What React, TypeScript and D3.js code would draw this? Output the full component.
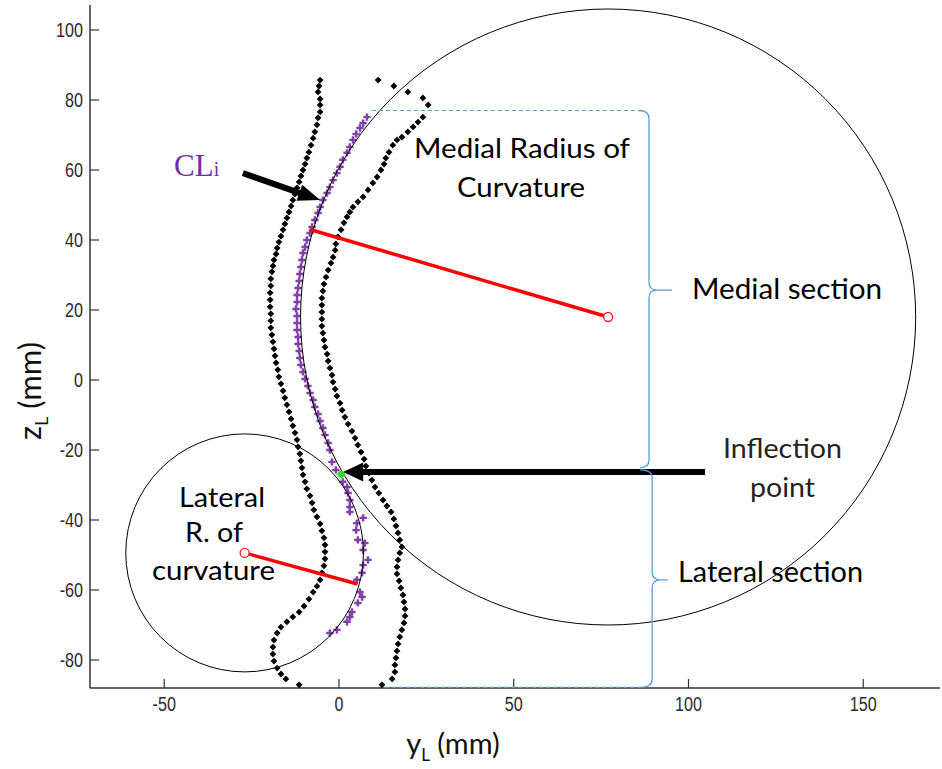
import React from 'react';
import * as d3 from 'd3';

const W = 942;
const H = 769;

const xTicks = [-50, 0, 50, 100, 150];
const zTicks = [-80, -60, -40, -20, 0, 20, 40, 60, 80, 100];

// left black border (y_L, z_L) in mm
const lateralBorder: [number, number][] = [
  [-5.4, 85.7], [-5.7, 84.0], [-6.0, 82.3], [-5.4, 80.3], [-5.4, 78.6], [-5.4, 76.6], [-6.0, 74.9], [-6.3, 72.9],
  [-6.9, 70.9], [-7.4, 69.1], [-8.0, 67.1], [-8.6, 65.1], [-9.2, 63.4], [-9.7, 61.7], [-10.3, 60.0], [-10.9, 58.3],
  [-11.4, 56.6], [-12.0, 54.9], [-12.6, 53.1], [-13.2, 51.4], [-13.7, 49.7], [-14.3, 48.0], [-14.9, 46.3], [-15.5, 44.6],
  [-16.0, 42.9], [-16.6, 41.1], [-17.2, 39.4], [-17.7, 37.7], [-18.0, 36.0], [-18.6, 34.3], [-18.9, 32.6], [-19.2, 30.9],
  [-19.5, 28.9], [-19.5, 26.9], [-19.7, 24.9], [-19.7, 22.9], [-19.7, 20.9], [-19.5, 18.9], [-19.5, 16.9], [-19.5, 14.9],
  [-19.2, 12.9], [-18.9, 10.9], [-18.6, 8.9], [-18.3, 6.9], [-18.0, 4.9], [-17.5, 2.9], [-17.2, 0.9], [-16.6, -1.1],
  [-16.0, -3.1], [-15.5, -5.1], [-14.9, -7.1], [-14.3, -9.1], [-13.7, -11.1], [-13.2, -13.1], [-12.6, -15.1], [-12.0, -17.1],
  [-11.7, -19.1], [-11.2, -21.1], [-10.9, -23.1], [-10.6, -25.1], [-10.3, -27.1], [-9.7, -29.1], [-9.2, -31.1], [-8.3, -33.1],
  [-7.7, -35.1], [-7.2, -37.1], [-6.3, -39.1], [-5.4, -41.1], [-4.9, -43.1], [-4.3, -45.1], [-4.0, -47.1], [-4.0, -49.1],
  [-4.0, -51.1], [-4.3, -53.1], [-4.9, -55.1], [-5.4, -57.1], [-6.3, -58.9], [-7.4, -60.6], [-8.6, -62.6], [-10.0, -64.6],
  [-11.4, -66.3], [-13.2, -67.7], [-14.9, -69.1], [-16.6, -70.6], [-17.7, -72.3], [-18.6, -74.3], [-18.9, -76.3], [-18.9, -78.3],
  [-18.6, -80.3], [-17.7, -82.3], [-16.6, -84.0], [-15.2, -85.4], [-11.4, -87.1],
];

// right black border
const medialBorder: [number, number][] = [
  [11.2, 85.7], [15.7, 84.0], [19.7, 82.3], [24.0, 80.6], [25.5, 78.6], [24.0, 75.1], [22.6, 73.7], [21.2, 72.3],
  [19.7, 70.9], [18.0, 69.4], [16.6, 68.6], [15.4, 67.1], [14.3, 65.1], [13.4, 63.4], [12.9, 61.7], [12.0, 60.0],
  [10.9, 58.0], [9.7, 56.3], [8.3, 54.3], [6.9, 52.3], [5.4, 50.9], [4.0, 49.4], [3.1, 48.0], [2.3, 46.6],
  [1.4, 44.9], [0.6, 42.9], [-0.3, 40.9], [-0.9, 38.9], [-1.1, 37.1], [-1.7, 35.1], [-2.3, 33.4], [-3.1, 31.4],
  [-3.7, 29.4], [-4.3, 27.4], [-4.6, 25.4], [-4.9, 23.4], [-4.9, 21.4], [-4.9, 19.4], [-4.9, 17.4], [-4.9, 15.4],
  [-4.6, 13.4], [-4.3, 11.4], [-4.0, 9.4], [-3.4, 7.4], [-3.1, 5.4], [-2.6, 3.4], [-2.0, 1.4], [-1.7, -0.6],
  [-1.1, -2.6], [-0.6, -4.6], [0.3, -6.6], [0.9, -8.6], [1.7, -10.6], [2.6, -12.6], [3.7, -14.6], [4.6, -16.6],
  [5.4, -18.6], [6.3, -20.6], [7.2, -22.6], [7.7, -24.6], [8.6, -26.6], [9.4, -28.6], [10.3, -30.6], [11.4, -32.3],
  [12.6, -34.3], [13.7, -36.0], [14.9, -37.7], [15.7, -39.7], [16.3, -41.7], [16.9, -43.7], [17.4, -45.7], [18.0, -47.7],
  [17.4, -49.4], [16.9, -51.4], [16.6, -53.4], [16.6, -55.4], [17.2, -57.4], [17.7, -59.4], [18.3, -61.4], [18.6, -63.4],
  [18.9, -65.4], [18.9, -67.4], [18.6, -69.4], [18.0, -71.4], [17.4, -73.4], [16.9, -75.4], [16.6, -77.4], [16.3, -79.4],
  [16.0, -81.4], [16.0, -83.4], [15.2, -85.4], [12.3, -87.1],
];

// purple centre line CL_i
const centerLine: [number, number][] = [
  [8.0, 75.1], [6.9, 73.4], [6.0, 72.0], [4.9, 70.3], [4.0, 68.6], [3.1, 66.6], [2.3, 64.9], [1.1, 62.9],
  [0.3, 60.9], [-0.6, 59.1], [-1.7, 57.1], [-2.6, 55.1], [-3.4, 53.4], [-4.6, 51.4], [-5.4, 49.4], [-6.0, 47.7],
  [-6.9, 45.7], [-7.7, 43.7], [-8.3, 42.0], [-9.2, 40.0], [-9.7, 38.0], [-10.3, 36.3], [-10.6, 34.3], [-10.9, 32.3],
  [-11.2, 30.3], [-11.4, 28.3], [-11.7, 26.3], [-12.0, 24.3], [-12.0, 22.3], [-12.3, 20.3], [-12.0, 18.3], [-12.0, 16.3],
  [-12.0, 14.3], [-11.7, 12.3], [-11.7, 10.3], [-11.4, 8.3], [-11.2, 6.3], [-10.9, 4.3], [-10.3, 2.3], [-9.7, 0.3],
  [-8.9, -1.7], [-8.3, -3.7], [-7.4, -5.7], [-6.9, -7.7], [-6.0, -9.7], [-5.4, -11.7], [-4.6, -13.7], [-4.0, -15.7],
  [-3.1, -18.0], [-2.6, -20.0], [-2.0, -23.4], [-0.9, -25.7], [1.1, -29.1], [2.3, -30.6], [2.6, -32.3], [3.1, -34.3],
  [3.1, -36.3], [3.1, -37.7], [5.1, -40.9], [6.9, -39.4], [4.9, -42.9], [5.4, -45.7], [7.4, -46.6], [6.9, -48.6],
  [8.3, -51.4], [6.9, -52.9], [6.6, -55.1], [5.1, -57.1], [6.0, -60.6], [6.6, -62.0], [5.4, -63.7], [3.7, -66.3],
  [3.1, -67.7], [2.3, -69.1], [-0.6, -71.4], [-2.6, -72.3],
];

const medialCircle = { cy: 77, cz: 18, r: 88 };
const medialRadiusEnd: [number, number] = [-8.3, 43];
const lateralCircle = { cy: -27, cz: -49.4, r: 34 };
const lateralRadiusEnd: [number, number] = [5.3, -58.3];
const inflectionPoint: [number, number] = [0.6, -26.9];

// annotation anchors (mm)
const clArrow: [number, number, number, number] = [-27.5, 59.1, -5.4, 51.4];
const inflArrow: [number, number, number, number] = [104.7, -26.3, 1.2, -26.3];
const braceMedial = { y: 88.7, top: 77, tip: 25.7, bottom: -25.1, tipY: 95.3 };
const braceLateral = { y: 89.6, top: -25.7, tip: -57.1, bottom: -87.8, tipY: 94.1 };
const dashStartTop = 9.4;
const dashStartBottom = 13.2;

const x = d3.scaleLinear().domain([-71.24, 171.96]).range([90, 940]);
const z = d3.scaleLinear().domain([-88, 107.14]).range([688, 5]);

function arrowPoly(x1: number, y1: number, x2: number, y2: number, sw: number, hl: number, hw: number) {
  const dx = x2 - x1, dy = y2 - y1;
  const L = Math.hypot(dx, dy);
  const ux = dx / L, uy = dy / L;
  const nx = -uy, ny = ux;
  const bx = x2 - ux * hl, by = y2 - uy * hl;
  const pts = [
    [x1 + nx * sw / 2, y1 + ny * sw / 2],
    [bx + nx * sw / 2, by + ny * sw / 2],
    [bx + nx * hw / 2, by + ny * hw / 2],
    [x2, y2],
    [bx - nx * hw / 2, by - ny * hw / 2],
    [bx - nx * sw / 2, by - ny * sw / 2],
    [x1 - nx * sw / 2, y1 - ny * sw / 2],
  ];
  return pts.map((p) => p.join(',')).join(' ');
}

function bracePath(b: { y: number; top: number; tip: number; bottom: number; tipY: number }, leftTop: number, leftBottom: number) {
  const p = d3.path();
  const X = x(b.y);
  const T = z(b.top), M = z(b.tip), B = z(b.bottom);
  const xt = x(b.tipY);
  const xl1 = x(leftTop), xl2 = x(leftBottom);
  const c = 8;
  p.moveTo(xl1, T);
  p.quadraticCurveTo(X, T, X, T + c);
  p.lineTo(X, M - c);
  p.quadraticCurveTo(X, M, X + c, M);
  p.lineTo(xt, M);
  p.moveTo(X + c, M);
  p.quadraticCurveTo(X, M, X, M + c);
  p.lineTo(X, B - c);
  p.quadraticCurveTo(X, B, xl2, B);
  return p.toString();
}

const diamond = 'M0,-3.4L3.4,0L0,3.4L-3.4,0Z';
const crossSym = d3.symbol(d3.symbolCross, 30)() as string;

const tickFont = "'Liberation Sans', Arial, sans-serif";
const annFont = "Lato, 'Open Sans', sans-serif";
const blue = '#5b9bd5';

export default function App() {
  const rxM = x(medialCircle.r) - x(0);
  const ryM = z(0) - z(medialCircle.r);
  const rxL = x(lateralCircle.r) - x(0);
  const ryL = z(0) - z(lateralCircle.r);
  return (
    <svg width={W} height={H} style={{ position: 'absolute', left: 0, top: 0, background: '#fff' }}>
      <rect x={0} y={0} width={W} height={H} fill="#fff" />
      {/* axes */}
      <line x1={90} y1={5} x2={90} y2={688} stroke="#333" strokeWidth={1.5} />
      <line x1={90} y1={688} x2={940} y2={688} stroke="#333" strokeWidth={1.5} />
      {zTicks.map((t) => (
        <g key={'zt' + t}>
          <line x1={90} x2={99} y1={z(t)} y2={z(t)} stroke="#333" strokeWidth={1.2} />
          <text transform={`translate(83,${z(t) + 7}) scale(0.85,1.05)`} textAnchor="end" fontFamily={tickFont} fontSize={19} fill="#2a2a2a">
            {t}
          </text>
        </g>
      ))}
      {xTicks.map((t) => (
        <g key={'xt' + t}>
          <line x1={x(t)} x2={x(t)} y1={688} y2={679} stroke="#333" strokeWidth={1.2} />
          <text transform={`translate(${x(t)},711) scale(0.85,1.05)`} textAnchor="middle" fontFamily={tickFont} fontSize={19} fill="#2a2a2a">
            {t}
          </text>
        </g>
      ))}
      {/* axis titles */}
      <text x={453} y={754} textAnchor="middle" fontFamily={annFont} fontSize={29} fill="#111">
        y<tspan fontSize={17} dy={7}>L</tspan>
        <tspan dy={-7}> (mm)</tspan>
      </text>
      <text transform="translate(41,391) rotate(-90)" textAnchor="middle" fontFamily={annFont} fontSize={31} fill="#111">
        z<tspan fontSize={18} dy={7}>L</tspan>
        <tspan dy={-7}> (mm)</tspan>
      </text>

      {/* markers */}
      {lateralBorder.map((d, i) => (
        <path key={'lb' + i} d={diamond} transform={`translate(${x(d[0])},${z(d[1])})`} fill="#000" />
      ))}
      {medialBorder.map((d, i) => (
        <path key={'mb' + i} d={diamond} transform={`translate(${x(d[0])},${z(d[1])})`} fill="#000" />
      ))}
      {centerLine.map((d, i) => (
        <path key={'cl' + i} d={crossSym} transform={`translate(${x(d[0])},${z(d[1])})`} fill="#8040a8" />
      ))}

      {/* circles */}
      <ellipse cx={x(medialCircle.cy)} cy={z(medialCircle.cz)} rx={rxM} ry={ryM} fill="none" stroke="#000" strokeWidth={1} />
      <ellipse cx={x(lateralCircle.cy)} cy={z(lateralCircle.cz)} rx={rxL} ry={ryL} fill="none" stroke="#000" strokeWidth={1} />

      {/* radii */}
      <line x1={x(medialCircle.cy)} y1={z(medialCircle.cz)} x2={x(medialRadiusEnd[0])} y2={z(medialRadiusEnd[1])} stroke="#ff0000" strokeWidth={3.5} />
      <line x1={x(lateralCircle.cy)} y1={z(lateralCircle.cz)} x2={x(lateralRadiusEnd[0])} y2={z(lateralRadiusEnd[1])} stroke="#ff0000" strokeWidth={3.5} />
      <circle cx={x(medialCircle.cy)} cy={z(medialCircle.cz)} r={4.5} fill="#fff" stroke="#ff2020" strokeWidth={1.3} />
      <circle cx={x(lateralCircle.cy)} cy={z(lateralCircle.cz)} r={4.5} fill="#fff" stroke="#ff2020" strokeWidth={1.3} />

      {/* inflection point */}
      <path d="M0,-4L4.5,0L0,4L-4.5,0Z" transform={`translate(${x(inflectionPoint[0])},${z(inflectionPoint[1])})`} fill="#22e022" />
      <circle cx={x(inflectionPoint[0])} cy={z(inflectionPoint[1])} r={3.5} fill="#22e022" />

      {/* arrows */}
      <polygon points={arrowPoly(x(clArrow[0]), z(clArrow[1]), x(clArrow[2]), z(clArrow[3]), 6, 22, 17)} fill="#000" />
      <polygon points={arrowPoly(x(inflArrow[0]), z(inflArrow[1]), x(inflArrow[2]), z(inflArrow[3]), 6, 20, 19)} fill="#000" />

      {/* braces */}
      <line x1={x(dashStartTop)} x2={x(braceMedial.y) - 10} y1={z(braceMedial.top)} y2={z(braceMedial.top)} stroke={blue} strokeWidth={1.2} strokeDasharray="4,3" />
      <line x1={x(dashStartBottom)} x2={x(braceLateral.y) - 12} y1={z(braceLateral.bottom)} y2={z(braceLateral.bottom)} stroke={blue} strokeWidth={1.2} strokeDasharray="4,3" />
      <path d={bracePath(braceMedial, braceMedial.y - 2.9, braceMedial.y - 2.6)} fill="none" stroke={blue} strokeWidth={1.3} />
      <path d={bracePath(braceLateral, braceLateral.y - 3.4, braceLateral.y - 3.4)} fill="none" stroke={blue} strokeWidth={1.3} />

      {/* labels */}
      <text x={174} y={176} fontFamily="'Liberation Serif', 'Times New Roman', serif" fontSize={31} fill="#7030a0">
        CL<tspan fontSize={20}>i</tspan>
      </text>
      <g fontFamily={annFont} fill="#000">
        <text x={414} y={158} fontSize={27} textLength={216} lengthAdjust="spacingAndGlyphs">Medial Radius of</text>
        <text x={457} y={197} fontSize={27} textLength={128} lengthAdjust="spacingAndGlyphs">Curvature</text>
        <text x={692} y={299} fontSize={28} textLength={190} lengthAdjust="spacingAndGlyphs">Medial section</text>
        <text x={723} y={458} fontSize={27} textLength={119} lengthAdjust="spacingAndGlyphs" fill="#222">Inflection</text>
        <text x={750} y={497} fontSize={27} textLength={65} lengthAdjust="spacingAndGlyphs" fill="#222">point</text>
        <text x={678} y={582} fontSize={28} textLength={185} lengthAdjust="spacingAndGlyphs">Lateral section</text>
        <text x={179} y={507} fontSize={27} textLength={86} lengthAdjust="spacingAndGlyphs">Lateral</text>
        <text x={185} y={542} fontSize={27} textLength={58} lengthAdjust="spacingAndGlyphs">R. of</text>
        <text x={152} y={580} fontSize={27} textLength={123} lengthAdjust="spacingAndGlyphs">curvature</text>
      </g>
    </svg>
  );
}
